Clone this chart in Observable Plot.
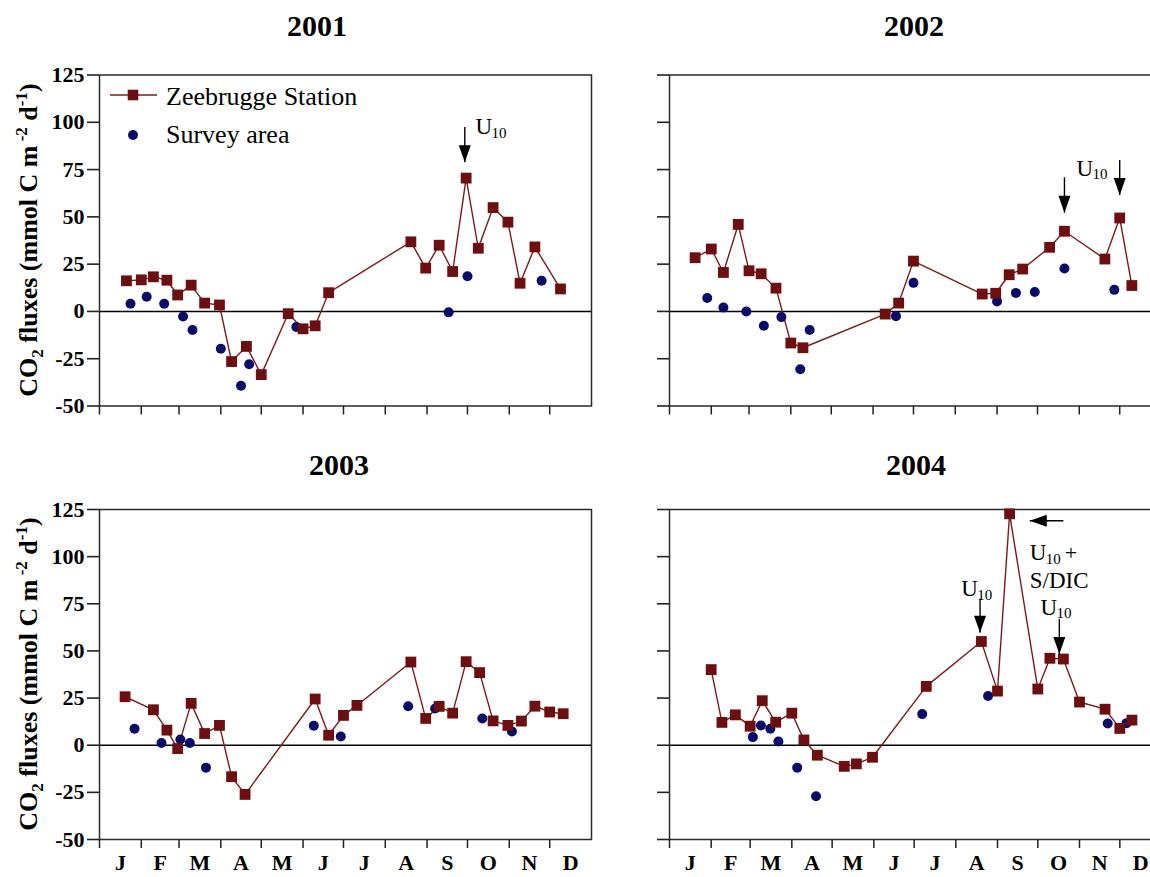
<!DOCTYPE html>
<html>
<head>
<meta charset="utf-8">
<script src="https://cdn.jsdelivr.net/npm/d3@7"></script>
<script src="https://cdn.jsdelivr.net/npm/@observablehq/plot@0.6"></script>
<style>
html, body { margin: 0; padding: 0; background: #fff; }
#fig { position: relative; width: 1150px; height: 877px; overflow: hidden; background: #fff;
  font-family: "Liberation Serif", "Times New Roman", serif; color: #000; }
.panel { position: absolute; }
.title { position: absolute; font-weight: bold; font-size: 30px; line-height: 30px; white-space: nowrap; transform: translateX(-50%); }
.ylab { position: absolute; font-weight: bold; font-size: 26px; line-height: 26px; white-space: nowrap;
  transform: translate(-50%, -50%) rotate(-90deg); }
.ylab sub, .ylab sup { font-size: 17px; line-height: 0; }
.leg { position: absolute; font-size: 26px; line-height: 26px; white-space: nowrap; }
</style>
</head>
<body>
<div id="fig"></div>
<script>
// ---------------- data ----------------
const monthLabels = ["J", "F", "M", "A", "M", "J", "J", "A", "S", "O", "N", "D"];
const yTicks = [-50, -25, 0, 25, 50, 75, 100, 125];
const years = [2001, 2002, 2003, 2004];
const seriesNames = ["Zeebrugge Station", "Survey area"];
const yAxisTitle = "CO<sub>2</sub> fluxes (mmol C m<sup> -2</sup> d<sup>-1</sup>)";

// Zeebrugge Station (line + squares)
const zDates2001 = ["01-21","02-01","02-10","02-20","02-28","03-10","03-20","03-31","04-09","04-20","05-01","05-21","06-01","06-10","06-20","08-20","08-31","09-10","09-20","09-30","10-09","10-20","10-31","11-09","11-20","12-09"];
const zFlux2001  = [16.2, 16.7, 18.3, 16.5, 8.7, 13.9, 4.4, 3.4, -26.5, -18.5, -33.4, -1.2, -9.2, -7.6, 9.9, 36.8, 22.9, 35, 21.1, 70.5, 33.4, 54.9, 47.2, 14.9, 34.1, 11.9];
const zDates2002 = ["01-20","02-01","02-10","02-21","03-01","03-10","03-21","04-01","04-10","06-10","06-20","07-01","08-21","08-31","09-10","09-20","10-10","10-21","11-20","12-01","12-10"];
const zFlux2002  = [28.4, 33, 20.6, 46, 21.5, 19.9, 12.3, -16.7, -19.2, -1.4, 4.4, 26.6, 9.2, 9.6, 19.4, 22.4, 33.9, 42.4, 27.7, 49.4, 13.7];
const zDates2003 = ["01-20","02-10","02-20","02-28","03-10","03-20","03-31","04-09","04-19","06-10","06-20","07-01","07-11","08-20","08-31","09-10","09-20","09-30","10-10","10-20","10-31","11-10","11-20","12-01","12-11"];
const zFlux2003  = [25.7, 18.8, 8, -1.8, 22.2, 6.2, 10.5, -16.7, -26.1, 24.5, 5.3, 15.8, 21.1, 44.1, 14.2, 20.6, 17, 44.3, 38.5, 12.9, 10.5, 12.8, 20.7, 17.6, 16.7];
const zDates2004 = ["02-01","02-09","02-19","03-01","03-10","03-20","04-01","04-10","04-20","05-10","05-19","05-31","07-10","08-20","09-01","09-10","10-01","10-10","10-20","11-01","11-20","12-01","12-10"];
const zFlux2004  = [40.1, 12.1, 16.1, 10.1, 23.6, 12.2, 17, 2.8, -5.3, -11.2, -9.9, -6.4, 31.2, 55, 28.7, 122.7, 29.8, 46.1, 45.7, 22.9, 19.1, 8.9, 13.3];

// Survey area (circles)
const sDates2001 = ["01-24","02-05","02-18","03-04","03-11","04-01","04-16","04-22","05-27","09-17","10-01","11-25"];
const sFlux2001  = [4.1, 7.8, 4.1, -2.7, -9.8, -19.7, -39.3, -27.9, -8.2, -0.5, 18.6, 16.2];
const sDates2002 = ["01-29","02-10","02-27","03-12","03-25","04-08","04-15","06-18","07-01","09-01","09-15","09-29","10-21","11-27"];
const sFlux2002  = [7.1, 2.1, 0, -7.6, -3.0, -30.6, -9.8, -2.5, 15.1, 5.3, 9.8, 10.3, 22.7, 11.4];
const sDates2003 = ["01-27","02-16","03-02","03-09","03-21","06-09","06-29","08-18","09-07","10-12","11-03"];
const sFlux2003  = [8.7, 1.2, 3, 1.2, -11.9, 10.3, 4.6, 20.7, 19.5, 14.2, 7.3];
const sDates2004 = ["03-03","03-09","03-16","03-22","04-05","04-19","07-07","08-25","11-22","12-06"];
const sFlux2004  = [4.3, 10.5, 8.7, 2, -11.9, -27.1, 16.5, 26.1, 11.5, 11.7];

// Annotations (arrows pointing down: date, top value, tip value)
const arrowYears = [2001, 2002, 2002, 2004, 2004];
const arrowDates = ["09-29", "10-21", "12-01", "08-19", "10-17"];
const arrowTops  = [97.5, 70.9, 80.1, 77.7, 67];
const arrowTips  = [78.9, 52.2, 61.6, 59.6, 48.4];
// Arrow pointing left (2004)
const leftArrowYear = 2004, leftArrowFrom = "10-20", leftArrowTo = "09-25", leftArrowValue = 119;
// U10 labels: year, left date, value, suffix
const labelYears  = [2001, 2002, 2004, 2004, 2004];
const labelDates  = ["10-07", "10-30", "08-05", "10-03", "09-25"];
const labelValues = [97.5, 75.6, 83, 73, 102];
const labelSuffix = ["", "", "", "", "+"];
const extraText = "S/DIC", extraYear = 2004, extraDate = "09-25", extraValue = 87.5;

// ---------------- helpers ----------------
const maroon = "#6d0f10", lineColor = "#7a1c1c", navy = "#0b0b6a";
const toDate = (y, md) => new Date(`${y}-${md}T00:00:00Z`);
const table = (y, dates, vals) => dates.map((d, i) => ({date: toDate(y, d), value: vals[i]}));
const Z = {2001: table(2001, zDates2001, zFlux2001), 2002: table(2002, zDates2002, zFlux2002),
           2003: table(2003, zDates2003, zFlux2003), 2004: table(2004, zDates2004, zFlux2004)};
const S = {2001: table(2001, sDates2001, sFlux2001), 2002: table(2002, sDates2002, sFlux2002),
           2003: table(2003, sDates2003, sFlux2003), 2004: table(2004, sDates2004, sFlux2004)};
const arrows = arrowYears.map((y, i) => ({year: y, date: toDate(y, arrowDates[i]), top: arrowTops[i], tip: arrowTips[i]}));
const labels = labelYears.map((y, i) => ({year: y, date: toDate(y, labelDates[i]), value: labelValues[i], suffix: labelSuffix[i]}));

// arrow heads as custom symbols (tip at origin)
const headDown = {draw(ctx, size) { const r = Math.sqrt(size / Math.PI);
  ctx.moveTo(0, 0); ctx.lineTo(-1.2 * r, -3.4 * r); ctx.lineTo(1.2 * r, -3.4 * r); ctx.closePath(); }};
const headLeft = {draw(ctx, size) { const r = Math.sqrt(size / Math.PI);
  ctx.moveTo(0, 0); ctx.lineTo(3.4 * r, -1.2 * r); ctx.lineTo(3.4 * r, 1.2 * r); ctx.closePath(); }};

const fig = document.getElementById("fig");

function panel(year, pos) {
  const start = new Date(Date.UTC(year, 0, 1)), end = new Date(Date.UTC(year + 1, 0, 1));
  const monthStarts = d3.utcMonth.range(start, end);
  const monthMids = monthStarts.map(m => new Date((+m + +d3.utcMonth.offset(m, 1)) / 2));
  const A = arrows.filter(d => d.year === year);
  const L = labels.filter(d => d.year === year);
  const marks = [
    Plot.ruleY([0], {stroke: "#000", strokeWidth: 1.5}),
    Plot.axisY({ticks: yTicks, tickSize: 12, tickPadding: 3, strokeWidth: 1.6, stroke: "#222",
      tickFormat: pos.yLabels ? (d => String(d)) : (() => ""), label: null}),
    Plot.axisX({ticks: monthStarts, tickSize: 9, strokeWidth: 1.5, stroke: "#222", tickFormat: () => "", label: null}),
    pos.xLabels ? Plot.axisX({ticks: monthMids, tickSize: 0, tickPadding: 15,
      tickFormat: d => monthLabels[d.getUTCMonth()], label: null}) : null,
    Plot.frame({stroke: "#2a2a2a", strokeWidth: 1.5}),
    Plot.line(Z[year], {x: "date", y: "value", stroke: lineColor, strokeWidth: 1.4}),
    Plot.dot(S[year], {x: "date", y: "value", r: 5, fill: navy}),
    Plot.dot(Z[year], {x: "date", y: "value", symbol: "square", r: 6.1, fill: maroon}),
    Plot.link(A, {x1: "date", x2: "date", y1: "top", y2: "tip", stroke: "#000", strokeWidth: 1.4}),
    Plot.dot(A, {x: "date", y: "tip", symbol: headDown, r: 5, fill: "#000"}),
    Plot.text(L, {x: "date", y: "value", text: () => "U", textAnchor: "start", fontSize: 23, fontWeight: "normal"}),
    Plot.text(L, {x: "date", y: "value", text: () => "10", textAnchor: "start", dx: 16, dy: 6, fontSize: 15, fontWeight: "normal"}),
    Plot.text(L, {x: "date", y: "value", text: "suffix", textAnchor: "start", dx: 35, fontSize: 22, fontWeight: "normal"})
  ];
  if (year === leftArrowYear) {
    const la = [{x1: toDate(year, leftArrowFrom), x2: toDate(year, leftArrowTo), y: leftArrowValue}];
    marks.push(Plot.link(la, {x1: "x1", x2: "x2", y1: "y", y2: "y", stroke: "#000", strokeWidth: 1.4}));
    marks.push(Plot.dot(la, {x: "x2", y: "y", symbol: headLeft, r: 5, fill: "#000"}));
  }
  if (year === extraYear) {
    marks.push(Plot.text([{date: toDate(year, extraDate), value: extraValue}],
      {x: "date", y: "value", text: () => extraText, textAnchor: "start", fontSize: 23, fontWeight: "normal"}));
  }
  const svg = Plot.plot({
    width: pos.width, height: pos.height,
    marginLeft: pos.ml, marginRight: pos.mr, marginTop: pos.mt, marginBottom: pos.mb,
    x: {type: "utc", domain: [start, end]},
    y: {domain: [-50, 125]},
    style: {fontFamily: "'Liberation Serif', 'Times New Roman', serif", fontSize: "22px", fontWeight: "bold",
            background: "transparent", overflow: "visible", color: "#000"},
    marks
  });
  svg.classList.add("panel");
  svg.style.left = pos.left + "px";
  svg.style.top = pos.top + "px";
  fig.appendChild(svg);

  const t = document.createElement("div");
  t.className = "title";
  t.textContent = String(year);
  t.style.left = pos.titleX + "px";
  t.style.top = pos.titleY + "px";
  fig.appendChild(t);

  if (pos.yLabels) {
    const yl = document.createElement("div");
    yl.className = "ylab";
    yl.innerHTML = yAxisTitle;
    yl.style.left = "29px";
    yl.style.top = pos.yLabY + "px";
    fig.appendChild(yl);
  }
}

panel(2001, {left: 0,   top: 0,   width: 600, height: 440, ml: 99, mr: 9, mt: 74.5, mb: 34.5, yLabels: true,  xLabels: false, titleX: 317, titleY: 11,  yLabY: 240});
panel(2002, {left: 570, top: 0,   width: 600, height: 440, ml: 99, mr: 9, mt: 74.5, mb: 34.5, yLabels: false, xLabels: false, titleX: 914, titleY: 11});
panel(2003, {left: 0,   top: 435, width: 600, height: 442, ml: 99, mr: 9, mt: 74,   mb: 38,   yLabels: true,  xLabels: true,  titleX: 339, titleY: 450, yLabY: 674});
panel(2004, {left: 570, top: 435, width: 600, height: 442, ml: 99, mr: 9, mt: 74,   mb: 38,   yLabels: false, xLabels: true,  titleX: 916, titleY: 450});

// legend (2001 panel)
const leg = document.createElementNS("http://www.w3.org/2000/svg", "svg");
leg.setAttribute("width", 60); leg.setAttribute("height", 60);
leg.style.position = "absolute"; leg.style.left = "105px"; leg.style.top = "85px";
leg.innerHTML = `<line x1="5" y1="10" x2="52" y2="10" stroke="${lineColor}" stroke-width="1.4"/>
<rect x="22.7" y="4.7" width="10.6" height="10.6" fill="${maroon}"/>
<circle cx="28" cy="50" r="5" fill="${navy}"/>`;
fig.appendChild(leg);
[[seriesNames[0], 84], [seriesNames[1], 122]].forEach(([txt, top]) => {
  const d = document.createElement("div");
  d.className = "leg"; d.textContent = txt;
  d.style.left = "166px"; d.style.top = top + "px";
  fig.appendChild(d);
});
</script>
</body>
</html>
